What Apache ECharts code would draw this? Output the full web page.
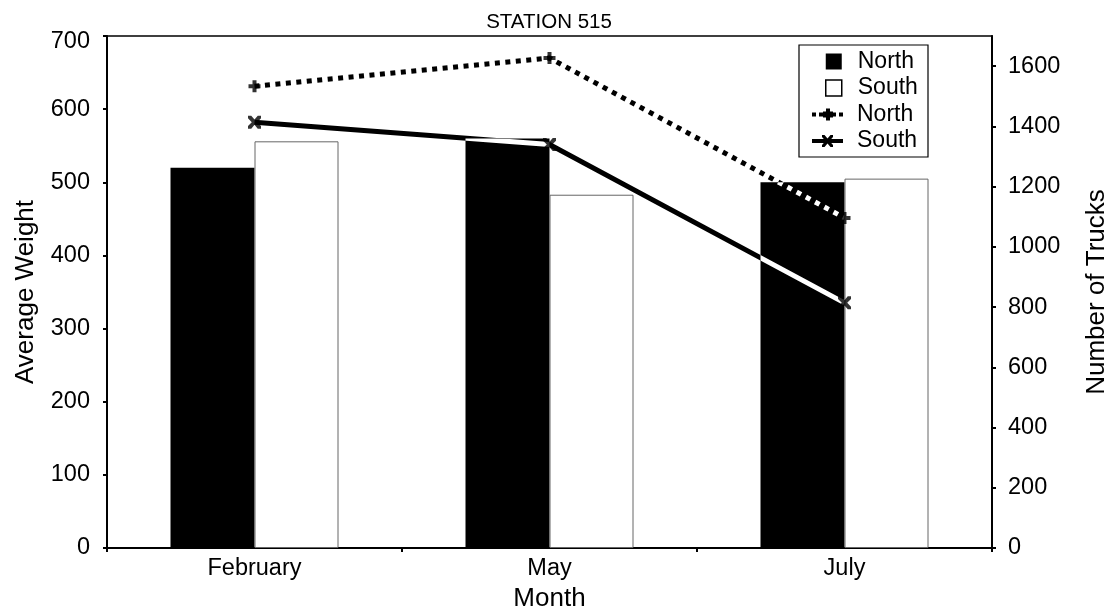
<!DOCTYPE html>
<html>
<head>
<meta charset="utf-8">
<script src="https://cdn.jsdelivr.net/npm/echarts@6/dist/echarts.min.js"></script>
<style>
html,body{margin:0;padding:0;background:#fff;}
#chart{width:1115px;height:614px;}
</style>
</head>
<body>
<div id="chart"></div>
<script>
var categories = ['February', 'May', 'July'];
var northWeight = [520, 560, 500];
var southWeight = [556, 483, 505];
var northTrucks = [1533, 1627, 1096];
var southTrucks = [1414, 1340, 814];
var leftTicks = {min: 0, max: 700, interval: 100};
var rightTicks = {min: 0, max: 1700, interval: 200};

var FONT = 'Liberation Sans, Arial, sans-serif';
var plusPath = 'path://M4,0H8V4H12V8H8V12H4V8H0V4H4Z';
var xPath = 'path://M0,0L3,0L6,3.5L9,0L12,0L12,2.5L8.5,6L12,9.5L12,12L9,12L6,8.5L3,12L0,12L0,9.5L3.5,6L0,2.5Z';
var northLegendIcon = 'path://M0,4H4V8H0Z M7,4H11V8H7Z M14,0H18V12H14Z M11,3H21V9H11Z M21,4H24V8H21Z M27,4H31V8H27Z';
var southLegendIcon = 'path://M0,4H31V8H0Z M10,0L12.5,0L15.5,3.5L18.5,0L21,0L21,2L17.5,6L21,10L21,12L18.5,12L15.5,8.5L12.5,12L10,12L10,10L13.5,6L10,2Z';

var chart = echarts.init(document.getElementById('chart'), null, {renderer: 'canvas'});
var axisLabelStyle = {color: '#000', fontSize: 23.5, fontFamily: FONT};
var nameStyle = {color: '#000', fontSize: 26, fontFamily: FONT};

chart.setOption({
  backgroundColor: '#fff',
  animation: false,
  title: {
    text: 'STATION 515',
    left: 549, top: 12, padding: 0, textAlign: 'center',
    textStyle: {color: '#000', fontSize: 20.5, fontWeight: 'normal', fontFamily: FONT}
  },
  grid: {
    left: 107, right: 123, top: 36, bottom: 66,
    show: true, borderColor: '#000', borderWidth: 1.5, backgroundColor: 'transparent',
    outerBoundsMode: 'none', containLabel: false
  },
  graphic: [{
    type: 'rect', z: 1,
    shape: {x: 799, y: 45, width: 129, height: 112},
    style: {fill: '#fff', stroke: '#000', lineWidth: 1.2}
  }],
  legend: [{
    orient: 'vertical', left: 825, top: 50, padding: 0,
    itemWidth: 16, itemHeight: 16, itemGap: 3.5, selectedMode: false, z: 5,
    textStyle: {color: '#000', fontSize: 23, fontFamily: FONT, padding: [0, 0, 0, 11]},
    data: [
      {name: 'North', icon: 'rect', itemStyle: {color: '#000', borderWidth: 0}},
      {name: 'South', icon: 'rect', itemStyle: {color: '#fff', borderColor: '#000', borderWidth: 1.5}}
    ]
  }, {
    orient: 'vertical', left: 812, top: 103, padding: 0,
    itemWidth: 31, itemHeight: 12, itemGap: 3.5, selectedMode: false, z: 5,
    textStyle: {color: '#000', fontSize: 23, fontFamily: FONT, padding: [0, 0, 0, 9]},
    formatter: function (n) { return n.trim(); },
    data: [
      {name: 'North ', icon: northLegendIcon, itemStyle: {color: '#000', borderWidth: 0}},
      {name: 'South ', icon: southLegendIcon, itemStyle: {color: '#000', borderWidth: 0}}
    ]
  }],
  xAxis: {
    type: 'category', data: categories, boundaryGap: true,
    name: 'Month', nameLocation: 'middle', nameGap: 36, nameTextStyle: nameStyle,
    axisLine: {lineStyle: {color: '#000', width: 2}},
    axisTick: {show: true, length: 4, lineStyle: {color: '#000', width: 2}},
    axisLabel: Object.assign({margin: 9}, axisLabelStyle),
    splitLine: {show: false}
  },
  yAxis: [{
    type: 'value', position: 'left', min: leftTicks.min, max: leftTicks.max, interval: leftTicks.interval,
    name: 'Average Weight', nameLocation: 'middle', nameGap: 68, nameRotate: 90, nameTextStyle: nameStyle,
    axisLine: {show: true, lineStyle: {color: '#000', width: 2}},
    axisTick: {show: true, length: 4, lineStyle: {color: '#000', width: 2}},
    axisLabel: Object.assign({
      margin: 17,
      formatter: function (v) { return v === leftTicks.max ? '{top|' + v + '}' : String(v); },
      rich: {top: {fontSize: 23.5, fontFamily: FONT, color: '#000', padding: [12, 0, 0, 0]}}
    }, axisLabelStyle),
    splitLine: {show: false}
  }, {
    type: 'value', position: 'right', min: rightTicks.min, max: rightTicks.max, interval: rightTicks.interval,
    name: 'Number of Trucks', nameLocation: 'middle', nameGap: 92, nameRotate: 90, nameTextStyle: nameStyle,
    axisLine: {show: true, lineStyle: {color: '#000', width: 2}},
    axisTick: {show: true, length: 4, lineStyle: {color: '#000', width: 2}},
    axisLabel: Object.assign({margin: 16, showMaxLabel: false, formatter: function (v) { return String(v); }}, axisLabelStyle),
    splitLine: {show: false}
  }],
  series: [{
    name: 'North', type: 'bar', yAxisIndex: 0, data: northWeight,
    barWidth: 84, barGap: '0%',
    itemStyle: {color: '#000', borderWidth: 0}
  }, {
    name: 'South', type: 'bar', yAxisIndex: 0, data: southWeight,
    barWidth: 84, barGap: '0%',
    itemStyle: {color: '#fff', borderColor: '#666', borderWidth: 1}
  }, {
    name: 'North ', type: 'line', yAxisIndex: 1, data: northTrucks,
    symbol: 'none', blendMode: 'difference', z: 3,
    lineStyle: {color: '#fff', width: 5, type: [5, 5.5], cap: 'butt'},
    itemStyle: {color: '#fff'}
  }, {
    name: 'South ', type: 'line', yAxisIndex: 1, data: southTrucks,
    symbol: 'none', blendMode: 'difference', z: 3,
    lineStyle: {color: '#fff', width: 5},
    itemStyle: {color: '#fff'}
  }, {
    name: 'northMarks', type: 'scatter', yAxisIndex: 1, data: northTrucks,
    symbol: plusPath, symbolSize: 12, z: 4,
    itemStyle: {color: '#000'}
  }, {
    name: 'southMarks', type: 'scatter', yAxisIndex: 1, data: southTrucks,
    symbol: xPath, symbolSize: 13, z: 4,
    itemStyle: {color: '#000'}
  }]
});
</script>
</body>
</html>
